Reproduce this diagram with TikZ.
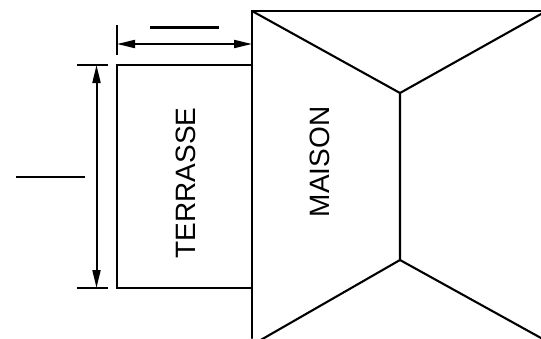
\documentclass[tikz,border=0pt]{standalone}
\usepackage{fontspec}
\setmainfont{Liberation Sans}
\usetikzlibrary{arrows.meta}
\tikzset{
  wall/.style={line width=2.3pt,line cap=round},
  thin wall/.style={line width=2.1pt,line cap=round},
  dim/.style={line width=2pt,{Triangle[length=18pt,width=8pt]}-{Triangle[length=18pt,width=8pt]}},
  tick/.style={line width=2.1pt},
  lab/.style={rotate=90,inner sep=0pt,font=\fontsize{28}{28}\selectfont}
}
\begin{document}
\begin{tikzpicture}[x=1pt,y=-1pt]
\useasboundingbox (0,0) rectangle (541,338);
\clip (0,0) rectangle (541,338);
\coordinate (tl) at (252,11);
\coordinate (tr) at (541,11);
\coordinate (bl) at (252,338);
\coordinate (v1) at (400,93);
\coordinate (v2) at (400,260);
\coordinate (e1) at (541,14);
\coordinate (e2) at (541,338);
\coordinate (e3) at (252,345);
\coordinate (r1) at (117,65);
\coordinate (r2) at (252,65);
\coordinate (r3) at (252,288);
\coordinate (r4) at (117,288);
\draw[wall] (tr) -- (tl) -- (bl);
\draw[thin wall] (tl) -- (v1) -- (v2) -- (e3);
\draw[thin wall] (e1) -- (v1);
\draw[thin wall] (v2) -- (e2);
\draw[wall] (r2) -- (r1) -- (r4) -- (r3);
\coordinate (t1) at (117,25);
\coordinate (t2) at (117,55);
\draw[tick] (t1) -- (t2);
\coordinate (a1) at (117,44);
\coordinate (a2) at (252,44);
\draw[dim] (a1) -- (a2);
\coordinate (h1) at (77,65);
\coordinate (h2) at (108,65);
\coordinate (h3) at (77,288);
\coordinate (h4) at (108,288);
\draw[tick] (h1) -- (h2);
\draw[tick] (h3) -- (h4);
\coordinate (b1) at (96.5,65);
\coordinate (b2) at (96.5,288);
\draw[dim] (b1) -- (b2);
\coordinate (l1) at (150,27.5);
\coordinate (l2) at (219,27.5);
\draw[tick] (l1) -- (l2);
\coordinate (l3) at (16,177);
\coordinate (l4) at (85,177);
\draw[tick] (l3) -- (l4);
\node[lab] (terrasse) at (186,183) {TERRASSE};
\node[lab] (maison) at (320,162) {MAISON};
\end{tikzpicture}
\end{document}
